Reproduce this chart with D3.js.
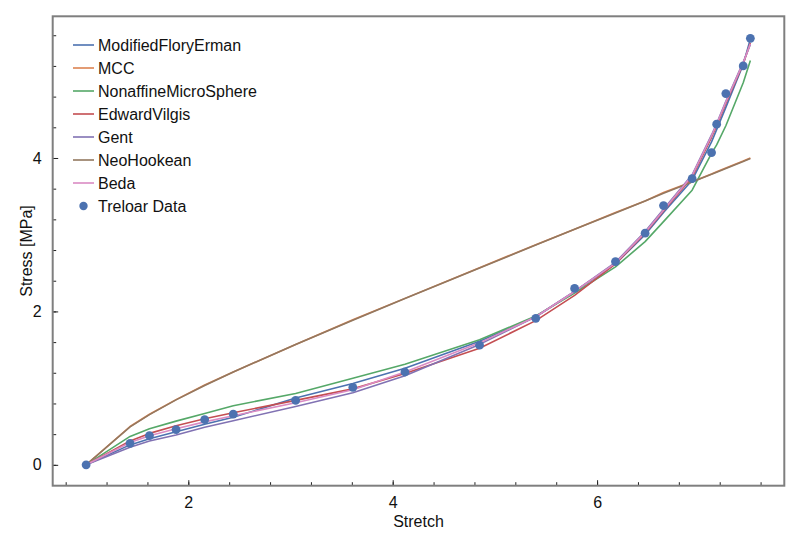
<!DOCTYPE html>
<html>
<head>
<meta charset="utf-8">
<script src="https://cdn.jsdelivr.net/npm/d3@7"></script>
<style>
  html, body { margin: 0; padding: 0; background: #fff; }
  svg { display: block; font-family: 'Liberation Sans', Arial, sans-serif; }
</style>
</head>
<body>
<div id="chart"></div>
<script>
// Stretch values at which the data and every model are evaluated
const stretch = [1.00, 1.43, 1.62, 1.88, 2.16, 2.44, 3.05, 3.61, 4.12, 4.85, 5.40, 5.78, 6.18, 6.47, 6.65, 6.93, 7.12, 7.17, 7.26, 7.43, 7.50];

const treloarData = [0, 0.28, 0.38, 0.46, 0.59, 0.66, 0.84, 1.01, 1.21, 1.56, 1.91, 2.30, 2.65, 3.02, 3.38, 3.73, 4.07, 4.44, 4.84, 5.20, 5.56];

const modifiedFloryErman = [0, 0.26, 0.34, 0.43, 0.53, 0.62, 0.87, 1.06, 1.26, 1.61, 1.93, 2.26, 2.62, 3.00, 3.29, 3.71, 4.21, 4.37, 4.66, 5.22, 5.55];
const mcc = [0, 0.50, 0.66, 0.85, 1.04, 1.21, 1.57, 1.89, 2.17, 2.57, 2.87, 3.07, 3.29, 3.44, 3.55, 3.69, 3.79, 3.82, 3.87, 3.96, 4.00];
const nonaffineMicroSphere = [0, 0.37, 0.47, 0.57, 0.67, 0.77, 0.93, 1.13, 1.31, 1.63, 1.94, 2.24, 2.58, 2.91, 3.17, 3.58, 4.06, 4.17, 4.42, 4.98, 5.27];
const edwardVilgis = [0, 0.31, 0.41, 0.51, 0.60, 0.68, 0.84, 0.99, 1.19, 1.52, 1.88, 2.21, 2.62, 3.02, 3.31, 3.75, 4.27, 4.42, 4.71, 5.23, 5.50];
const gent = [0, 0.23, 0.31, 0.39, 0.49, 0.575, 0.76, 0.94, 1.16, 1.57, 1.93, 2.26, 2.64, 3.04, 3.33, 3.78, 4.30, 4.45, 4.74, 5.25, 5.48];
const neoHookean = [0, 0.494, 0.655, 0.847, 1.035, 1.21, 1.569, 1.885, 2.167, 2.566, 2.865, 3.071, 3.282, 3.438, 3.54, 3.686, 3.788, 3.815, 3.863, 3.955, 3.992];
const beda = [0, 0.29, 0.38, 0.47, 0.56, 0.64, 0.81, 0.98, 1.21, 1.59, 1.93, 2.26, 2.63, 3.03, 3.32, 3.77, 4.29, 4.44, 4.73, 5.24, 5.49];

const modelNames = ['ModifiedFloryErman', 'MCC', 'NonaffineMicroSphere', 'EdwardVilgis', 'Gent', 'NeoHookean', 'Beda'];
const modelValues = [modifiedFloryErman, mcc, nonaffineMicroSphere, edwardVilgis, gent, neoHookean, beda];
const colors = ['#4c72b0', '#dd8452', '#55a868', '#c44e52', '#8172b3', '#937860', '#da8bc3'];

const xTicks = [2, 4, 6];
const yTicks = [0, 2, 4];

const width = 800;
const height = 544;
const margins = { top: 16.3, bottom: 58.3, left: 52.7, right: 15.7 };

const svg = d3.select('#chart')
  .append('svg')
  .attr('width', width)
  .attr('height', height);

const x = d3.scaleLinear()
  .domain([0.673, 7.832])
  .range([margins.left, width - margins.right]);

const y = d3.scaleLinear()
  .domain([-0.272, 5.847])
  .range([height - margins.bottom, margins.top]);

// minor ticks every 0.4 units, as in the original
const xMinor = d3.range(0.8, 7.8, 0.4).map((v) => +v.toFixed(1));
const yMinor = d3.range(0, 5.85, 0.4).map((v) => +v.toFixed(1));

const plot = svg.append('g');

const line = (values) => d3.line()
  .x((d, i) => x(stretch[i]))
  .y((d) => y(d))(values);

modelValues.forEach((values, i) => {
  plot.append('path')
    .attr('d', line(values))
    .attr('fill', 'none')
    .attr('stroke', colors[i])
    .attr('stroke-width', 1.6)
    .attr('stroke-linejoin', 'round');
});

plot.selectAll('circle.data')
  .data(treloarData)
  .join('circle')
  .attr('class', 'data')
  .attr('cx', (d, i) => x(stretch[i]))
  .attr('cy', (d) => y(d))
  .attr('r', 4.4)
  .attr('fill', '#4c72b0');

// axes: ticks point inward
const xAxisMinor = d3.axisBottom(x).tickValues(xMinor).tickSize(-3.5).tickFormat('');
const xAxisMajor = d3.axisBottom(x).tickValues(xTicks).tickSize(-5.5).tickPadding(11).tickFormat(d3.format('d'));
const yAxisMinor = d3.axisLeft(y).tickValues(yMinor).tickSize(-3.5).tickFormat('');
const yAxisMajor = d3.axisLeft(y).tickValues(yTicks).tickSize(-5.5).tickPadding(11).tickFormat(d3.format('d'));

const bottom = height - margins.bottom;

[xAxisMinor, xAxisMajor].forEach((axis) => {
  svg.append('g')
    .attr('transform', `translate(0, ${bottom})`)
    .call(axis)
    .call((g) => g.select('.domain').remove());
});

[yAxisMinor, yAxisMajor].forEach((axis) => {
  svg.append('g')
    .attr('transform', `translate(${margins.left}, 0)`)
    .call(axis)
    .call((g) => g.select('.domain').remove());
});

svg.selectAll('.tick line').attr('stroke', '#222').attr('stroke-width', 1);
svg.selectAll('.tick text')
  .attr('fill', '#111')
  .style('font-size', '16px')
  .style('font-family', "'Liberation Sans', Arial, sans-serif");

// frame
svg.append('rect')
  .attr('x', margins.left)
  .attr('y', margins.top)
  .attr('width', width - margins.left - margins.right)
  .attr('height', height - margins.top - margins.bottom)
  .attr('fill', 'none')
  .attr('stroke', '#7f7f7f')
  .attr('stroke-width', 2);

svg.append('text')
  .attr('x', (margins.left + width - margins.right) / 2)
  .attr('y', 527)
  .attr('text-anchor', 'middle')
  .attr('fill', '#111')
  .style('font-size', '16px')
  .text('Stretch');

svg.append('text')
  .attr('transform', `translate(32, ${(margins.top + bottom) / 2}) rotate(-90)`)
  .attr('text-anchor', 'middle')
  .attr('fill', '#111')
  .style('font-size', '16px')
  .text('Stress [MPa]');

// legend
const legendItems = modelNames.map((name, i) => ({ label: name, color: colors[i], type: 'line' }))
  .concat([{ label: 'Treloar Data', color: '#4c72b0', type: 'dot' }]);

const legend = svg.append('g').attr('transform', 'translate(73, 45)');

legendItems.forEach((item, i) => {
  const row = legend.append('g').attr('transform', `translate(0, ${i * 23})`);

  if (item.type === 'line') {
    row.append('line')
      .attr('x1', 0).attr('x2', 21)
      .attr('y1', 0).attr('y2', 0)
      .attr('stroke', item.color)
      .attr('stroke-width', 1.6);
  } else {
    row.append('circle')
      .attr('cx', 10.5).attr('cy', 0)
      .attr('r', 4.2)
      .attr('fill', item.color);
  }

  row.append('text')
    .attr('x', 25)
    .attr('y', 0)
    .attr('dy', '0.35em')
    .attr('fill', '#111')
    .style('font-size', '16px')
    .text(item.label);
});
</script>
</body>
</html>
